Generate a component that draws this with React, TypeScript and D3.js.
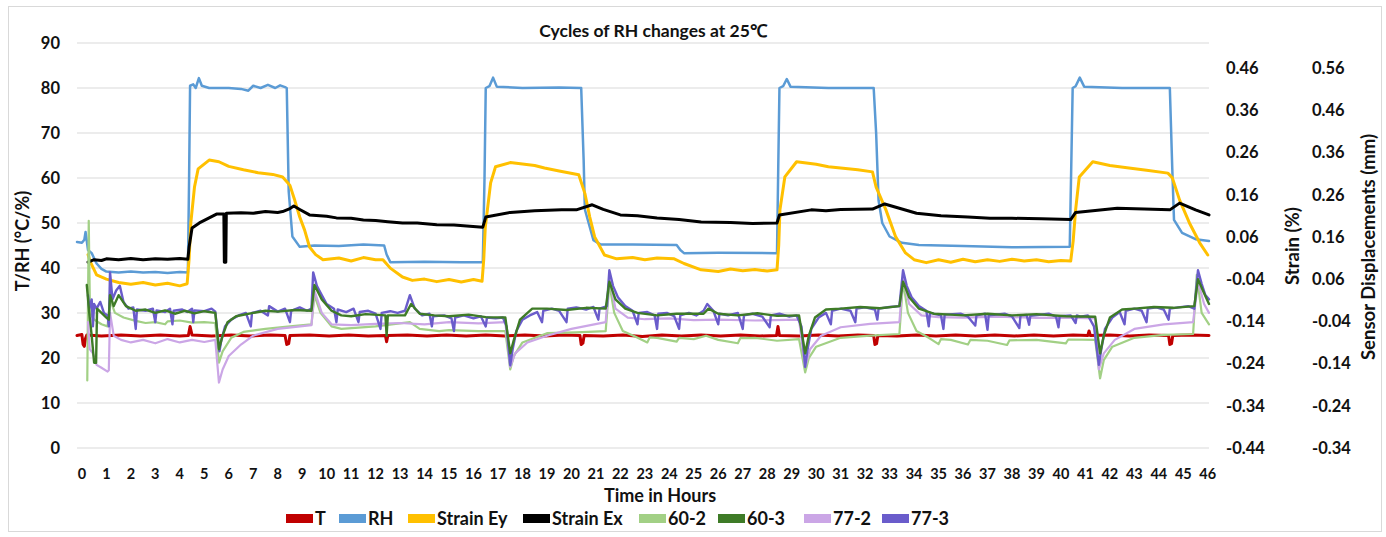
import React from "react";
import * as d3 from "d3";

type Pt = [number, number];

// tick labels
const hourTicks = d3.range(0, 47);
const leftTicks = [0, 10, 20, 30, 40, 50, 60, 70, 80, 90];
const strainTicks = [-0.44, -0.34, -0.24, -0.14, -0.04, 0.06, 0.16, 0.26, 0.36, 0.46];
const dispTicks = [-0.34, -0.24, -0.14, -0.04, 0.06, 0.16, 0.26, 0.36, 0.46, 0.56];

// T (°C), [hour, value]
const tempT: Pt[] = [[-0.2,25.0],[0.0,25.2],[0.05,23.0],[0.1,22.6],[0.15,24.4],[0.2,25.1],[0.8,24.9],[1.6,25.1],[2.4,24.9],[3.2,25.1],[4.0,24.9],[4.35,25.0],[4.42,27.0],[4.5,25.1],[5.3,24.9],[6.1,25.1],[6.9,24.9],[7.7,25.1],[8.3,25.0],[8.37,23.0],[8.45,23.2],[8.5,25.0],[9.3,25.1],[10.1,24.9],[10.9,25.1],[11.7,24.9],[12.4,25.0],[12.45,23.6],[12.5,25.0],[13.3,25.1],[14.1,24.9],[14.9,25.1],[15.7,24.9],[16.5,25.1],[17.3,24.9],[18.1,25.1],[18.9,24.9],[19.7,25.1],[20.35,25.0],[20.4,23.0],[20.47,23.3],[20.52,25.0],[21.3,24.9],[22.1,25.1],[22.9,24.8],[23.7,25.1],[24.5,24.9],[25.3,25.1],[26.1,24.9],[26.9,25.1],[27.7,24.9],[28.38,25.0],[28.44,27.0],[28.5,25.0],[29.3,24.9],[30.1,25.1],[30.9,24.9],[31.7,25.1],[32.35,25.0],[32.4,23.0],[32.47,23.2],[32.52,25.0],[33.3,24.9],[34.1,25.1],[34.9,24.9],[35.7,25.1],[36.5,24.9],[37.3,25.1],[38.1,24.9],[38.9,25.1],[39.7,24.9],[40.5,25.1],[41.1,25.0],[41.15,26.0],[41.2,25.0],[42.0,25.1],[42.8,24.9],[43.6,25.1],[44.4,25.0],[44.45,23.0],[44.52,23.2],[44.57,25.0],[45.3,25.1],[46.05,25.0]];

// RH (%)
const rh: Pt[] = [[-0.2,45.8],[0.0,45.6],[0.1,46.3],[0.15,48.0],[0.2,46.0],[0.25,44.0],[0.4,43.3],[0.6,41.0],[0.8,39.8],[1.0,39.2],[1.5,39.0],[2.0,39.2],[2.5,39.0],[3.0,39.1],[3.5,38.9],[4.0,39.1],[4.33,39.0],[4.38,60.0],[4.42,80.5],[4.55,80.8],[4.65,80.0],[4.78,82.2],[4.9,80.5],[5.2,80.0],[6.0,80.0],[6.5,79.8],[6.8,79.4],[7.0,80.5],[7.3,80.0],[7.6,80.7],[7.9,80.0],[8.1,80.6],[8.3,80.2],[8.37,80.0],[8.45,57.0],[8.6,47.0],[8.9,44.7],[9.5,45.0],[10.5,44.9],[11.5,45.2],[12.35,45.0],[12.45,43.0],[12.6,41.3],[14.0,41.4],[15.5,41.3],[16.38,41.3],[16.45,60.0],[16.5,80.0],[16.65,80.4],[16.8,82.3],[16.95,80.3],[18.0,80.0],[19.5,80.1],[20.4,80.0],[20.5,64.0],[20.55,53.0],[20.9,46.2],[21.2,45.2],[22.5,45.2],[24.3,45.1],[24.45,44.0],[24.6,43.3],[26.0,43.4],[28.4,43.3],[28.45,62.0],[28.5,80.0],[28.65,80.4],[28.8,82.0],[28.95,80.3],[30.5,80.0],[32.35,80.0],[32.45,70.0],[32.55,55.0],[32.7,50.0],[33.0,47.0],[33.5,45.6],[34.2,45.1],[36.0,44.9],[38.0,44.6],[40.36,44.7],[40.42,62.0],[40.48,80.0],[40.6,80.4],[40.77,82.3],[40.95,80.3],[42.5,80.0],[44.45,80.0],[44.55,62.0],[44.62,50.7],[44.95,47.8],[45.5,46.4],[46.05,46.0]];

// Strain Ey (%)
const strainEy: Pt[] = [[0.25,0.018],[0.35,0.000],[0.6,-0.030],[1.0,-0.040],[1.5,-0.048],[2,-0.052],[2.5,-0.048],[3,-0.054],[3.5,-0.050],[4,-0.056],[4.3,-0.051],[4.38,0.008],[4.45,0.093],[4.6,0.178],[4.75,0.221],[5.2,0.242],[5.6,0.238],[6,0.227],[6.6,0.219],[7.2,0.212],[7.8,0.208],[8.2,0.202],[8.4,0.189],[8.5,0.182],[8.7,0.146],[8.9,0.107],[9.1,0.076],[9.3,0.036],[9.55,0.018],[9.85,0.006],[10.5,0.010],[11,0.003],[11.5,0.011],[12,0.006],[12.3,0.006],[12.6,-0.014],[13.1,-0.035],[13.5,-0.043],[14,-0.040],[14.5,-0.046],[15,-0.041],[15.5,-0.047],[16,-0.041],[16.35,-0.045],[16.42,0.008],[16.48,0.082],[16.7,0.188],[16.9,0.226],[17.5,0.236],[18.5,0.229],[18.9,0.223],[19.5,0.216],[20.3,0.207],[20.55,0.163],[20.75,0.107],[20.95,0.060],[21.35,0.017],[21.85,0.008],[22.5,0.011],[23,0.006],[23.5,0.010],[24.2,0.008],[24.6,-0.003],[25.3,-0.018],[26,-0.022],[26.5,-0.016],[27,-0.020],[27.5,-0.017],[28,-0.021],[28.4,-0.018],[28.47,0.040],[28.52,0.124],[28.72,0.202],[29.2,0.238],[30,0.232],[30.5,0.226],[31,0.223],[31.7,0.219],[32.3,0.214],[32.45,0.178],[32.85,0.124],[33.25,0.060],[33.65,0.022],[34,0.006],[34.5,-0.001],[35,0.006],[35.5,0.000],[36,0.007],[36.5,0.001],[37,0.006],[37.5,0.002],[38,0.007],[38.5,0.003],[39,0.006],[39.5,0.001],[40,0.004],[40.4,0.003],[40.5,0.050],[40.6,0.124],[40.75,0.202],[41.3,0.238],[42,0.229],[42.7,0.224],[43.5,0.218],[44.37,0.211],[44.55,0.200],[44.85,0.147],[45.25,0.093],[45.67,0.046],[46.0,0.017]];

// Strain Ex (%)
const strainEx: Pt[] = [[0.25,0.000],[0.5,0.006],[0.8,0.004],[1.0,0.008],[1.5,0.006],[2.0,0.009],[2.5,0.006],[3.0,0.008],[3.5,0.007],[4.0,0.009],[4.33,0.007],[4.38,0.036],[4.5,0.081],[4.8,0.093],[5.2,0.105],[5.5,0.114],[5.8,0.114],[5.82,0.000],[5.88,0.000],[5.9,0.116],[6.5,0.117],[7.0,0.116],[7.5,0.120],[8.0,0.118],[8.2,0.120],[8.5,0.127],[8.66,0.133],[8.9,0.125],[9.3,0.112],[10.0,0.109],[10.4,0.105],[11.0,0.104],[11.5,0.100],[12.0,0.099],[12.5,0.096],[13.1,0.093],[13.7,0.093],[14.5,0.089],[15.2,0.088],[15.85,0.085],[16.38,0.083],[16.5,0.107],[17.5,0.118],[18.5,0.122],[19.6,0.124],[20.2,0.124],[20.85,0.136],[21.3,0.125],[22.0,0.112],[22.7,0.110],[23.5,0.105],[24.4,0.101],[25.3,0.095],[26.5,0.094],[27.4,0.092],[28.4,0.093],[28.5,0.112],[29.8,0.124],[30.4,0.122],[31.0,0.125],[32.3,0.126],[32.8,0.138],[34.1,0.116],[35.1,0.110],[36.2,0.107],[37.1,0.104],[38.0,0.104],[39.2,0.103],[40.4,0.101],[40.6,0.118],[42.3,0.128],[43.4,0.126],[44.45,0.124],[44.85,0.140],[45.5,0.124],[46.05,0.112]];

// sensor 60-2 (mm)
const s602: Pt[] = [[0.22,-0.180],[0.28,0.198],[0.33,-0.020],[0.5,-0.036],[0.8,-0.047],[1.05,-0.052],[1.15,0.012],[1.35,-0.020],[1.7,-0.031],[2.2,-0.039],[2.6,-0.044],[3,-0.042],[3.4,-0.047],[3.5,-0.040],[4,-0.038],[4.5,-0.043],[5,-0.042],[5.45,-0.044],[5.6,-0.138],[5.75,-0.111],[6.1,-0.079],[6.6,-0.065],[7.5,-0.058],[8.5,-0.052],[9.38,-0.047],[9.5,0.022],[9.75,-0.020],[10.2,-0.052],[10.6,-0.058],[11.3,-0.055],[12,-0.052],[13.4,-0.042],[13.8,-0.058],[14.6,-0.063],[15,-0.061],[16.2,-0.063],[17.3,-0.063],[17.5,-0.154],[17.65,-0.122],[18,-0.090],[19,-0.068],[20.2,-0.066],[21.4,-0.063],[21.55,0.049],[21.75,-0.020],[22.1,-0.063],[22.6,-0.076],[23.1,-0.090],[23.2,-0.078],[23.5,-0.079],[24.3,-0.088],[24.4,-0.079],[25,-0.082],[25.5,-0.074],[26,-0.084],[26.8,-0.092],[26.9,-0.080],[27.5,-0.079],[28.4,-0.086],[29.3,-0.082],[29.55,-0.161],[29.7,-0.127],[30,-0.100],[31,-0.079],[32.2,-0.074],[33.4,-0.070],[33.55,0.054],[33.75,-0.020],[34.1,-0.063],[34.6,-0.079],[35,-0.094],[35.1,-0.082],[35.5,-0.084],[36.2,-0.095],[36.3,-0.084],[37,-0.086],[37.8,-0.096],[37.9,-0.085],[39,-0.084],[40.2,-0.092],[40.3,-0.083],[41.4,-0.084],[41.6,-0.175],[41.75,-0.132],[42.1,-0.100],[43,-0.079],[44.2,-0.072],[45.4,-0.070],[45.55,0.070],[45.75,-0.020],[46.05,-0.047]];

// sensor 60-3 (mm)
const s603: Pt[] = [[0.2,0.046],[0.3,-0.020],[0.4,-0.074],[0.5,-0.138],[0.58,-0.138],[0.62,-0.010],[0.8,-0.020],[1.0,-0.031],[1.1,-0.036],[1.15,0.022],[1.3,-0.004],[1.5,0.022],[1.8,-0.004],[2.2,-0.015],[2.6,-0.012],[3,-0.020],[3.4,-0.014],[3.8,-0.022],[4.2,-0.015],[4.6,-0.021],[5,-0.016],[5.45,-0.020],[5.6,-0.106],[5.75,-0.074],[5.95,-0.042],[6.3,-0.028],[7,-0.020],[7.5,-0.015],[8,-0.017],[8.7,-0.013],[9.38,-0.015],[9.5,0.046],[9.8,0.012],[10.2,-0.015],[10.6,-0.026],[11,-0.028],[11.6,-0.023],[12.4,-0.026],[12.45,-0.074],[12.5,-0.026],[13.2,-0.026],[13.45,0.001],[13.8,-0.022],[14.4,-0.026],[15,-0.028],[15.8,-0.024],[16.5,-0.030],[17.3,-0.031],[17.5,-0.116],[17.65,-0.084],[17.9,-0.036],[18.4,-0.010],[19,-0.010],[19.8,-0.013],[20.6,-0.008],[21.4,-0.010],[21.55,0.054],[21.8,0.012],[22.2,-0.010],[22.7,-0.020],[23.5,-0.026],[24.3,-0.022],[25.4,-0.022],[25.6,-0.010],[26,-0.022],[26.8,-0.026],[27.6,-0.021],[28.4,-0.027],[29.3,-0.026],[29.55,-0.116],[29.7,-0.074],[29.95,-0.031],[30.4,-0.012],[31,-0.010],[31.8,-0.006],[32.6,-0.009],[33.4,-0.004],[33.55,0.054],[33.8,0.017],[34.2,-0.010],[34.8,-0.022],[35.5,-0.024],[36,-0.026],[37,-0.022],[38,-0.026],[39,-0.023],[40.2,-0.028],[41.4,-0.029],[41.6,-0.116],[41.75,-0.074],[42,-0.031],[42.5,-0.012],[43,-0.010],[43.8,-0.006],[44.6,-0.008],[45.45,-0.004],[45.6,0.060],[45.8,0.033],[46.05,0.001]];

// sensor 77-2 (mm)
const s772: Pt[] = [[0.25,-0.042],[0.32,-0.106],[0.45,-0.116],[0.6,-0.143],[0.8,-0.150],[1.05,-0.159],[1.1,-0.156],[1.15,-0.020],[1.3,-0.074],[1.6,-0.084],[2,-0.090],[2.5,-0.084],[3,-0.092],[3.5,-0.082],[4,-0.090],[4.5,-0.084],[5,-0.089],[5.45,-0.084],[5.6,-0.185],[5.75,-0.154],[6.0,-0.122],[6.5,-0.095],[7,-0.074],[8,-0.058],[9.38,-0.049],[9.5,0.033],[9.8,-0.020],[10.2,-0.047],[11,-0.049],[12,-0.046],[13,-0.044],[14,-0.047],[15,-0.042],[16.2,-0.045],[17.3,-0.042],[17.5,-0.148],[17.7,-0.116],[18.2,-0.090],[19,-0.074],[20,-0.058],[21.4,-0.042],[21.55,0.065],[21.8,-0.010],[22.3,-0.031],[23,-0.035],[24,-0.033],[25,-0.037],[26,-0.036],[27.5,-0.038],[29.3,-0.036],[29.55,-0.148],[29.75,-0.106],[30.2,-0.074],[31,-0.054],[32.2,-0.046],[33.4,-0.042],[33.55,0.065],[33.8,0.001],[34.3,-0.026],[35,-0.030],[36,-0.031],[37.5,-0.029],[39,-0.032],[40.2,-0.031],[41.4,-0.033],[41.55,-0.154],[41.75,-0.116],[42.2,-0.084],[43,-0.058],[44.2,-0.047],[45.4,-0.042],[45.6,0.054],[45.85,0.001],[46.05,-0.020]];

// sensor 77-3 (mm)
const s773: Pt[] = [[0.25,0.022],[0.3,-0.010],[0.4,0.012],[0.45,-0.052],[0.5,0.001],[0.6,-0.010],[0.75,0.006],[0.9,-0.020],[1.05,-0.026],[1.1,-0.052],[1.15,0.076],[1.25,0.012],[1.4,0.033],[1.55,0.044],[1.7,0.006],[1.9,-0.010],[2.1,-0.007],[2.2,-0.058],[2.25,-0.012],[2.6,-0.015],[2.9,-0.010],[3.0,-0.042],[3.05,-0.014],[3.4,-0.018],[3.6,-0.010],[3.7,-0.047],[3.75,-0.015],[4.1,-0.012],[4.3,-0.018],[4.5,-0.010],[4.55,-0.042],[4.6,-0.014],[5.0,-0.016],[5.3,-0.010],[5.45,-0.017],[5.55,-0.074],[5.62,-0.111],[5.7,-0.084],[5.85,-0.052],[6.1,-0.036],[6.4,-0.026],[6.7,-0.020],[6.9,-0.052],[6.95,-0.020],[7.3,-0.015],[7.6,-0.026],[7.65,-0.004],[8,-0.017],[8.3,-0.010],[8.5,-0.042],[8.55,-0.015],[8.9,-0.007],[9.2,-0.015],[9.38,-0.010],[9.45,0.076],[9.6,0.044],[9.8,0.022],[10.0,0.001],[10.3,-0.010],[10.4,-0.042],[10.45,-0.012],[10.8,-0.018],[11.1,-0.010],[11.3,-0.042],[11.35,-0.018],[11.7,-0.015],[12,-0.022],[12.2,-0.058],[12.25,-0.020],[12.6,-0.016],[12.9,-0.020],[13.2,-0.015],[13.4,0.022],[13.6,-0.010],[13.9,-0.026],[14.2,-0.022],[14.3,-0.052],[14.35,-0.028],[14.8,-0.026],[15.1,-0.033],[15.2,-0.063],[15.25,-0.031],[15.6,-0.026],[16,-0.033],[16.3,-0.028],[16.5,-0.052],[16.55,-0.031],[16.9,-0.033],[17.2,-0.031],[17.35,-0.052],[17.5,-0.144],[17.6,-0.106],[17.75,-0.063],[18,-0.036],[18.3,-0.026],[18.6,-0.018],[18.8,-0.042],[18.85,-0.015],[19.2,-0.010],[19.5,-0.015],[19.8,-0.042],[19.85,-0.010],[20.2,-0.007],[20.6,-0.012],[20.9,-0.006],[21.1,-0.036],[21.15,-0.010],[21.45,-0.004],[21.55,0.081],[21.7,0.044],[21.9,0.017],[22.2,-0.004],[22.5,-0.015],[22.7,-0.047],[22.75,-0.020],[23.1,-0.018],[23.4,-0.026],[23.5,-0.058],[23.55,-0.022],[23.9,-0.020],[24.2,-0.028],[24.4,-0.058],[24.45,-0.026],[24.8,-0.020],[25.1,-0.026],[25.4,-0.015],[25.55,0.001],[25.8,-0.015],[26,-0.047],[26.05,-0.022],[26.4,-0.026],[26.8,-0.020],[27,-0.058],[27.05,-0.026],[27.4,-0.022],[27.8,-0.029],[28.1,-0.054],[28.15,-0.026],[28.5,-0.022],[28.9,-0.029],[29.2,-0.026],[29.4,-0.052],[29.55,-0.148],[29.65,-0.106],[29.8,-0.058],[30.1,-0.031],[30.4,-0.020],[30.6,-0.047],[30.65,-0.015],[31,-0.010],[31.4,-0.015],[31.6,-0.042],[31.65,-0.010],[32,-0.007],[32.4,-0.012],[32.5,-0.036],[32.55,-0.010],[33,-0.006],[33.4,-0.004],[33.55,0.081],[33.7,0.044],[33.9,0.017],[34.2,-0.004],[34.5,-0.015],[34.6,-0.052],[34.65,-0.020],[35.1,-0.026],[35.2,-0.058],[35.25,-0.024],[35.9,-0.022],[36.2,-0.029],[36.5,-0.050],[36.55,-0.026],[36.9,-0.022],[37.0,-0.060],[37.05,-0.026],[37.7,-0.022],[38,-0.028],[38.3,-0.056],[38.35,-0.026],[38.6,-0.025],[38.7,-0.048],[38.75,-0.027],[39.5,-0.022],[39.8,-0.029],[39.9,-0.054],[39.95,-0.028],[40.4,-0.026],[40.6,-0.044],[40.65,-0.026],[40.8,-0.029],[41.1,-0.026],[41.35,-0.052],[41.55,-0.143],[41.65,-0.106],[41.8,-0.058],[42.1,-0.031],[42.4,-0.018],[42.6,-0.047],[42.65,-0.015],[43,-0.010],[43.3,-0.015],[43.5,-0.042],[43.55,-0.010],[43.9,-0.007],[44.2,-0.012],[44.4,-0.036],[44.45,-0.010],[44.8,-0.007],[45.2,-0.004],[45.45,-0.010],[45.6,0.081],[45.75,0.049],[45.9,0.022],[46.05,0.012]];

const legendNames = ["T", "RH", "Strain Ey", "Strain Ex", "60-2", "60-3", "77-2", "77-3"];
const colors: Record<string, string> = {
  "T": "#c00000",
  "RH": "#5b9bd5",
  "Strain Ey": "#ffc000",
  "Strain Ex": "#000000",
  "60-2": "#a2d085",
  "60-3": "#3e7b27",
  "77-2": "#cba6e6",
  "77-3": "#6a5ccb",
};

const FONT = "Lato, 'Open Sans', sans-serif";

export default function App() {
  const width = 1386, height = 537;
  const left = 77, right = 1209, top = 43, bottom = 448;

  const x = d3.scaleLinear().domain([-0.2, 46.05]).range([left, right]);
  const yL = d3.scaleLinear().domain([0, 90]).range([bottom, top]);
  const yS = d3.scaleLinear().domain([-0.44, 0.46]).range([bottom, 68]);
  const yD = d3.scaleLinear().domain([-0.34, 0.56]).range([bottom, 68]);

  const mk = (ys: d3.ScaleLinear<number, number>) =>
    d3.line<Pt>().x(d => x(d[0])).y(d => ys(d[1]));

  // draw order (back to front)
  const layers = [
    { name: "T", data: tempT, y: yL, w: 3 },
    { name: "RH", data: rh, y: yL, w: 2.5 },
    { name: "Strain Ey", data: strainEy, y: yS, w: 3 },
    { name: "Strain Ex", data: strainEx, y: yS, w: 3 },
    { name: "60-2", data: s602, y: yD, w: 2.2 },
    { name: "77-2", data: s772, y: yD, w: 2.2 },
    { name: "77-3", data: s773, y: yD, w: 2.4 },
    { name: "60-3", data: s603, y: yD, w: 2.4 },
  ];

  const legendX = [286, 339, 408, 523, 639, 718, 804, 882];

  return (
    <svg width={width} height={height} style={{ position: "absolute", left: 0, top: 0, background: "#fff" }}
      fontFamily={FONT} fontWeight="bold">
      <rect x={8.5} y={6.5} width={1373} height={525} fill="#fff" stroke="#d9d9d9" />

      <text x={653} y={37} textAnchor="middle" fontSize={17.5} fill="#111">Cycles of RH changes at 25℃</text>

      {/* gridlines + left axis */}
      {leftTicks.map(t => (
        <g key={"l" + t}>
          <line x1={left} x2={right} y1={yL(t)} y2={yL(t)} stroke="#d9d9d9" strokeWidth={1} />
          <text x={60} y={yL(t)} dy="0.36em" textAnchor="end" fontSize={16.5} fill="#111">{t}</text>
        </g>
      ))}

      {/* right axes */}
      {strainTicks.map(t => (
        <text key={"s" + t} x={1226} y={yS(t)} dy="0.36em" fontSize={16.5} fill="#111">{t.toFixed(2)}</text>
      ))}
      {dispTicks.map(t => (
        <text key={"d" + t} x={1312} y={yD(t)} dy="0.36em" fontSize={16.5} fill="#111">{t.toFixed(2)}</text>
      ))}

      {/* x axis labels */}
      {hourTicks.map(h => (
        <text key={"h" + h} x={x(h)} y={479} textAnchor="middle" fontSize={14.5} fill="#111">{h}</text>
      ))}

      <text x={660} y={502} textAnchor="middle" fontSize={18} fill="#111">Time in Hours</text>
      <text transform="translate(29,241) rotate(-90)" textAnchor="middle" fontSize={18} fill="#111">T/RH (°C/%)</text>
      <text transform="translate(1299,246) rotate(-90)" textAnchor="middle" fontSize={18.5} fill="#111">Strain (%)</text>
      <text transform="translate(1375,247) rotate(-90)" textAnchor="middle" fontSize={18.5} fill="#111">Sensor Displacements (mm)</text>

      {/* series */}
      <g fill="none" strokeLinejoin="round" strokeLinecap="round">
        {layers.map(l => (
          <path key={l.name} d={mk(l.y)(l.data) || ""} stroke={colors[l.name]} strokeWidth={l.w} />
        ))}
      </g>

      {/* legend */}
      {legendNames.map((n, i) => (
        <g key={n} transform={`translate(${legendX[i]},0)`}>
          <rect x={0} y={514} width={27} height={9} fill={colors[n]} />
          <text x={29} y={525} fontSize={18} fill="#111">{n}</text>
        </g>
      ))}
    </svg>
  );
}
